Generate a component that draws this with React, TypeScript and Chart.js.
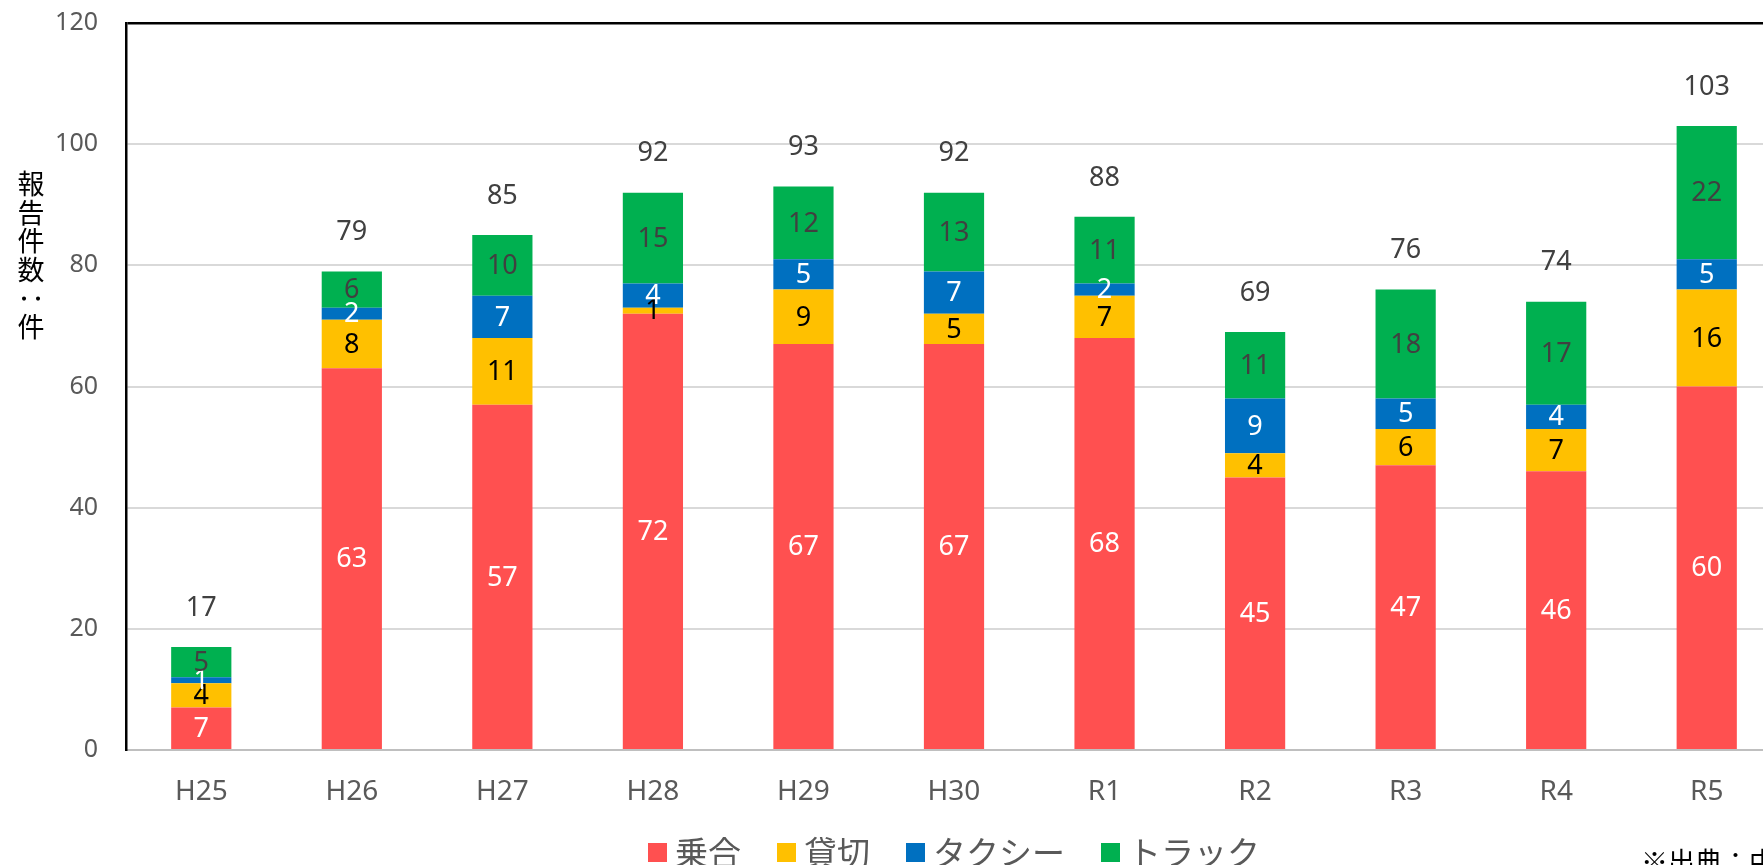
import React, { useEffect, useRef } from "react";
import { Chart, registerables } from "chart.js";
Chart.register(...registerables);

const categories = ["H25", "H26", "H27", "H28", "H29", "H30", "R1", "R2", "R3", "R4", "R5"];
const noriai = [7, 63, 57, 72, 67, 67, 68, 45, 47, 46, 60];
const kashikiri = [4, 8, 11, 1, 9, 5, 7, 4, 6, 7, 16];
const taxi = [1, 2, 7, 4, 5, 7, 2, 9, 5, 4, 5];
const truck = [5, 6, 10, 15, 12, 13, 11, 11, 18, 17, 22];
const seriesNames = ["乗合", "貸切", "タクシー", "トラック"];
const seriesColors = ["#FF5050", "#FFC000", "#0070C0", "#00B050"];
const labelColors = ["#FFFFFF", "#000000", "#FFFFFF", "#404040"];
const yTitle = "報告件数：件";
const sourceNote = "※出典：中部運輸局";

const LATIN = "'Noto Sans', 'Noto Sans CJK JP', sans-serif";
const CJK = "'Noto Sans CJK JP', 'Noto Sans', sans-serif";

const labelsPlugin = {
  id: "segLabels",
  afterDatasetsDraw(chart: any) {
    const ctx = chart.ctx;
    ctx.save();
    ctx.font = `27px ${LATIN}`;
    ctx.textAlign = "center";
    ctx.textBaseline = "middle";
    const n = chart.data.datasets.length;
    chart.data.datasets.forEach((ds: any, i: number) => {
      const meta = chart.getDatasetMeta(i);
      meta.data.forEach((el: any, j: number) => {
        const v = ds.data[j];
        ctx.fillStyle = labelColors[i];
        ctx.fillText(String(v), el.x, (el.y + el.base) / 2 + 1);
      });
    });
    // totals above stacks
    const lastMeta = chart.getDatasetMeta(n - 1);
    ctx.fillStyle = "#404040";
    lastMeta.data.forEach((el: any, j: number) => {
      let sum = 0;
      chart.data.datasets.forEach((ds: any) => (sum += ds.data[j]));
      ctx.fillText(String(sum), el.x, el.y - 39);
    });
    ctx.restore();
  },
};

const decorPlugin = {
  id: "decor",
  afterDraw(chart: any) {
    const ctx = chart.ctx;
    ctx.save();
    // y axis title (vertical, stacked characters)
    ctx.fillStyle = "#000000";
    ctx.font = `27px ${CJK}`;
    ctx.textAlign = "center";
    ctx.textBaseline = "middle";
    const chars = Array.from(yTitle);
    chars.forEach((c, k) => {
      const x = 31;
      const y = 184 + k * 28.6;
      if (c === "：") {
        ctx.save();
        ctx.translate(x, y);
        ctx.rotate(Math.PI / 2);
        ctx.fillText(c, 0, 0);
        ctx.restore();
      } else {
        ctx.fillText(c, x, y);
      }
    });
    // legend
    ctx.font = `33px ${CJK}`;
    ctx.textAlign = "left";
    ctx.textBaseline = "middle";
    let lx = 648;
    chart.data.datasets.forEach((ds: any) => {
      ctx.fillStyle = ds.backgroundColor;
      ctx.fillRect(lx, 843, 19, 19);
      ctx.fillStyle = "#595959";
      ctx.fillText(ds.label, lx + 27, 852);
      lx += 27 + ctx.measureText(ds.label).width + 36;
    });
    // source note
    ctx.fillStyle = "#000000";
    ctx.font = `27px ${CJK}`;
    ctx.textBaseline = "top";
    ctx.fillText(sourceNote, 1641, 848);
    ctx.restore();
  },
};

export default function App() {
  const ref = useRef<HTMLCanvasElement>(null);
  useEffect(() => {
    if (!ref.current) return;
    const data = [noriai, kashikiri, taxi, truck];
    const chart = new Chart(ref.current, {
      type: "bar",
      data: {
        labels: categories,
        datasets: data.map((d, i) => ({
          label: seriesNames[i],
          data: d,
          backgroundColor: seriesColors[i],
          borderWidth: 0,
          categoryPercentage: 1,
          barPercentage: 0.4,
        })),
      },
      options: {
        animation: false,
        responsive: false,
        events: [],
        layout: { padding: { top: 23, right: 18, left: 0, bottom: 0 } },
        plugins: { legend: { display: false }, tooltip: { enabled: false } },
        scales: {
          x: {
            stacked: true,
            grid: { display: false, drawTicks: false },
            border: { display: true, color: "#BFBFBF", width: 2 },
            ticks: { color: "#595959", font: { family: LATIN, size: 28 }, padding: 25 },
            afterFit: (s: any) => {
              s.height = 150;
              s.paddingLeft = 0;
              s.paddingRight = 0;
            },
          },
          y: {
            stacked: true,
            min: 0,
            max: 120,
            ticks: { stepSize: 20, color: "#595959", font: { family: LATIN, size: 25 }, padding: 28 },
            grid: {
              drawTicks: false,
              color: (c: any) => (c.tick && c.tick.value === 120 ? "#000000" : c.tick && c.tick.value === 0 ? "#BFBFBF" : "#D9D9D9"),
              lineWidth: (c: any) => (c.tick && c.tick.value === 120 ? 2.5 : 2),
            },
            border: { display: true, color: "#000000", width: 2.5 },
            afterFit: (s: any) => {
              s.width = 126;
              s.paddingTop = 0;
              s.paddingBottom = 0;
            },
          },
        },
      },
      plugins: [labelsPlugin, decorPlugin],
    });
    return () => chart.destroy();
  }, []);
  return (
    <div style={{ position: "fixed", left: 0, top: 0, width: 1763, height: 865, overflow: "hidden", background: "#fff" }}>
      <canvas ref={ref} width={1800} height={900} style={{ position: "absolute", left: 0, top: 0 }} />
    </div>
  );
}
